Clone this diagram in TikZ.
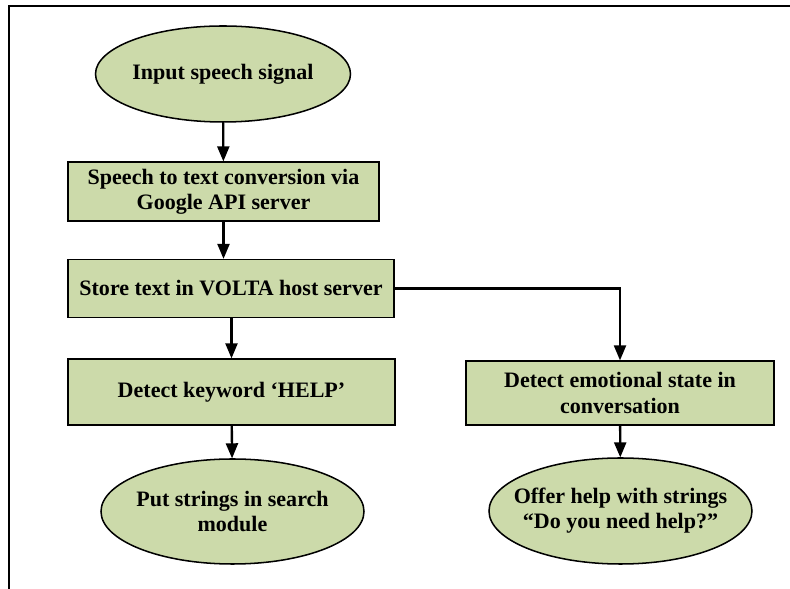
\documentclass[tikz,border=0pt]{standalone}
\usepackage{fontspec}
\setmainfont{Liberation Serif}
\usetikzlibrary{arrows, shapes.geometric, positioning}
\definecolor{boxgreen}{RGB}{204,218,170}
\tikzset{stepbox/.style={
    draw, line width = 1.3pt, fill = boxgreen, align = center,
    font = \bfseries\fontsize{18.8}{21.5}\selectfont, inner sep = 0pt
    },
    endpoint/.style={
    ellipse, draw, line width = 1.3pt, fill = boxgreen, align = center,
    font = \bfseries\fontsize{18.8}{21.5}\selectfont, inner xsep = -0.45cm, inner ysep = 0pt
    },
    flow/.style={->, line width = 2pt}
}

\begin{document}
\begin{tikzpicture}[>=triangle 45]
        \useasboundingbox (0, 0) rectangle (23.7, 17.67);
        \draw[line width = 1.2pt] (23.7, 17.49) -- (0.27, 17.49) -- (0.27, 0);

        \node[endpoint, minimum width = 7.65cm, minimum height = 2.88cm] (input) at (6.69, 15.45) {Input speech signal};
        \node[stepbox, minimum width = 9.33cm, minimum height = 1.77cm] (convert) at (6.705, 11.925) {Speech to text conversion via\\Google API server};
        \node[stepbox, minimum width = 9.78cm, minimum height = 1.74cm] (store) at (6.93, 9.015) {Store text in VOLTA host server};

        \node[stepbox, minimum width = 9.81cm, minimum height = 1.98cm] (keyword) at (6.945, 5.91) {Detect keyword `HELP'};
        \node[stepbox, minimum width = 9.24cm, minimum height = 1.92cm] (emotion) at (18.6, 5.88) {Detect emotional state in\\conversation};

        \node[endpoint, minimum width = 7.89cm, minimum height = 3.15cm] (search) at (6.975, 2.325) {Put strings in search\\module};
        \node[endpoint, minimum width = 7.89cm, minimum height = 3.18cm] (offer) at (18.615, 2.34) {Offer help with strings\\``Do you need help?''};

        % arrows
        \draw[flow] (input) -- (convert);
        \draw[flow] (convert.south) -- (convert.south |- store.north);
        \draw[flow] (store.south -| keyword.north) -- (keyword.north);
        \draw[flow] (store.east) -| (emotion.north);
        \draw[flow] (keyword) -- (search);
        \draw[flow] (emotion) -- (offer);
    \end{tikzpicture}
\end{document}
